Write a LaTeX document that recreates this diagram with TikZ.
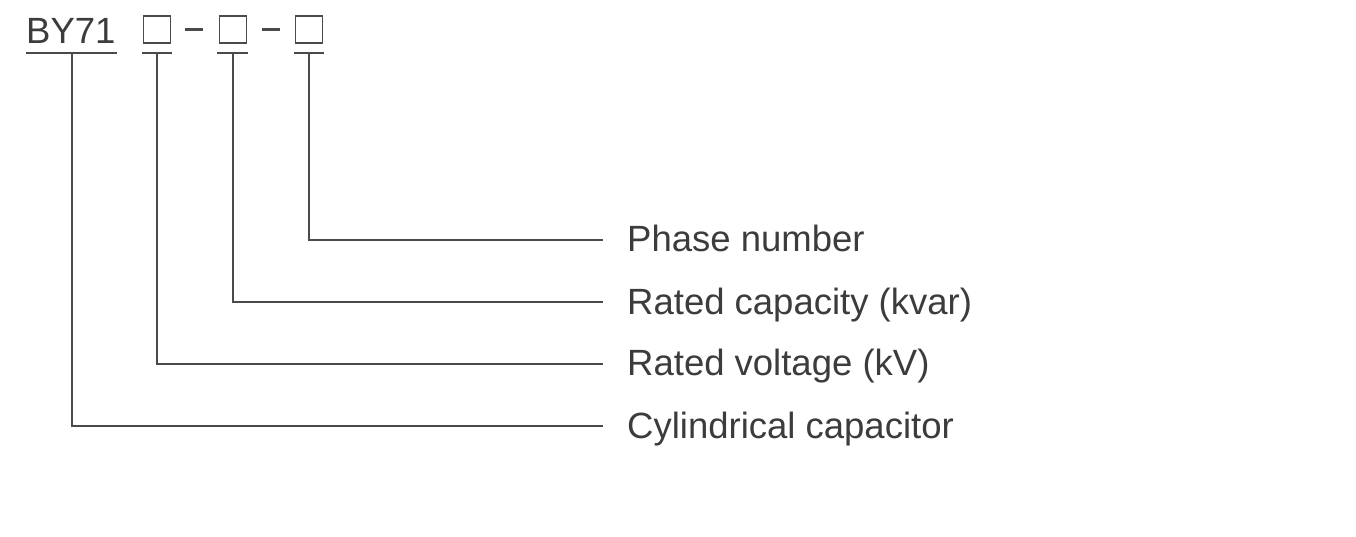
\documentclass[tikz,border=0pt]{standalone}
\usepackage{fontspec}
\setmainfont{Liberation Sans}
\definecolor{ink}{HTML}{3C3C3C}
\definecolor{wire}{HTML}{4A4A4A}
\begin{document}
\begin{tikzpicture}[x=1pt,y=-1pt,
  txt/.style={inner sep=0pt, anchor=base west, text=ink, font=\fontsize{36.5}{40}\selectfont},
  codebox/.style={draw=wire, line width=1.8pt, minimum width=27pt, minimum height=27pt, inner sep=0pt},
  dashbar/.style={fill=wire, minimum width=18pt, minimum height=2.4pt, inner sep=0pt},
  wireline/.style={draw=wire, line width=2pt},
]
\useasboundingbox[fill=white] (0,0) rectangle (1356,536);
% code
\node[txt] (code) at (26,43) {BY71};
\node[codebox] (b1) at (157,29.5) {};
\node[dashbar] (d1) at (194,29.5) {};
\node[codebox] (b2) at (233,29.5) {};
\node[dashbar] (d2) at (271,29.5) {};
\node[codebox] (b3) at (309,29.5) {};
% underlines
\coordinate (u0l) at (26,53); \coordinate (u0r) at (117,53);
\coordinate (u1l) at (142,53); \coordinate (u1r) at (172,53);
\coordinate (u2l) at (217,53); \coordinate (u2r) at (248,53);
\coordinate (u3l) at (294,53); \coordinate (u3r) at (324,53);
\draw[wireline] (u0l) -- (u0r);
\draw[wireline] (u1l) -- (u1r);
\draw[wireline] (u2l) -- (u2r);
\draw[wireline] (u3l) -- (u3r);
\coordinate (u0) at (72,53);
\coordinate (u1) at (157,53);
\coordinate (u2) at (233,53);
\coordinate (u3) at (309,53);
% labels
\node[txt] (l1) at (627,251.5) {Phase number};
\node[txt] (l2) at (627,314) {Rated capacity (kvar)};
\node[txt] (l3) at (627,375.5) {Rated voltage (kV)};
\node[txt] (l4) at (627,438) {Cylindrical capacitor};
\coordinate (e1) at (603,240);
\coordinate (e2) at (603,302);
\coordinate (e3) at (603,364);
\coordinate (e4) at (603,426);
% connectors
\draw[wireline] (u3) |- (e1);
\draw[wireline] (u2) |- (e2);
\draw[wireline] (u1) |- (e3);
\draw[wireline] (u0) |- (e4);
\end{tikzpicture}
\end{document}
